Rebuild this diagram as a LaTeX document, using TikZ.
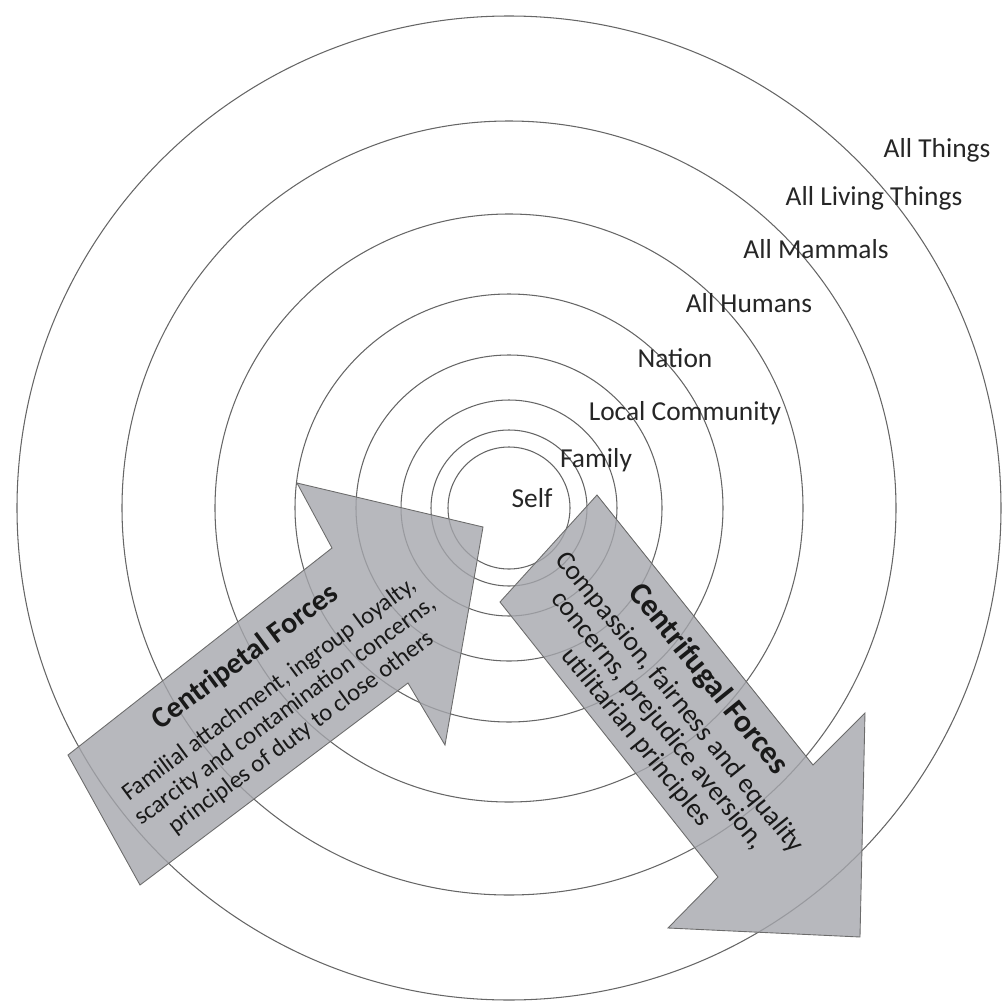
\documentclass[tikz,border=0pt]{standalone}
\usepackage{fontspec}
\setmainfont{Carlito}

\definecolor{forcegrey}{RGB}{165,166,172}
\newcommand{\forcetitlefont}{\bfseries\fontsize{17}{20}\selectfont}
\newcommand{\fugaltitlefont}{\bfseries\fontsize{18}{20}\selectfont}

\tikzset{
  ring/.style={draw=gray!80!black, line width=0.6pt},
  level/.style={anchor=base, text=black!85, font=\fontsize{15.6}{18}\selectfont},
  force/.style={fill=forcegrey, fill opacity=0.8, draw=gray!85!black, line width=0.5pt},
  forcetext/.style={align=center, inner sep=0pt, text=black!90},
}

\begin{document}
\begin{tikzpicture}[x=0.02cm, y=-0.02cm]
    \useasboundingbox (0,0) rectangle (1002,1001);

    % Circles
    \coordinate (centre) at (509,508);
    \foreach \r in {61,78,108,153,214,294,387,492}
        \draw[ring] (centre) circle [radius=\r];

    % Circle labels
    \node[level] (things) at (937,157) {All Things};
    \node[level] (living) at (874,205) {All Living Things};
    \node[level] (mammals) at (816,258) {All Mammals};
    \node[level] (humans) at (749,312) {All Humans};
    \node[level] (nation) at (675,367) {Nation};
    \node[level] (community) at (685,420) {Local Community};
    \node[level] (family) at (596,467) {Family};
    \node[level] (self) at (532,507) {Self};

    % Arrows
    \draw[force] (68,755) -- (332,548) -- (297,483) -- (483,527) -- (445,745) -- (408,683) -- (140,885) -- cycle;
    \draw[force] (597,495) -- (813,765) -- (865,713) -- (860,937) -- (668,928) -- (718,877) -- (500,602) -- cycle;

    % Arrow texts
    \node[forcetext, rotate=36.5, font=\fontsize{13.9}{15.3}\selectfont] (inward) at (273,694)
        {{\forcetitlefont Centripetal Forces}\\[6.8pt]Familial attachment, ingroup loyalty,\\scarcity and contamination concerns,\\principles of duty to close others};
    \node[forcetext, rotate=-51, font=\fontsize{15.6}{15.8}\selectfont] (outward) at (673,708)
        {{\fugaltitlefont Centrifugal Forces}\\[4.6pt]Compassion, fairness and equality\\concerns, prejudice aversion,\\utilitarian principles};
\end{tikzpicture}
\end{document}
